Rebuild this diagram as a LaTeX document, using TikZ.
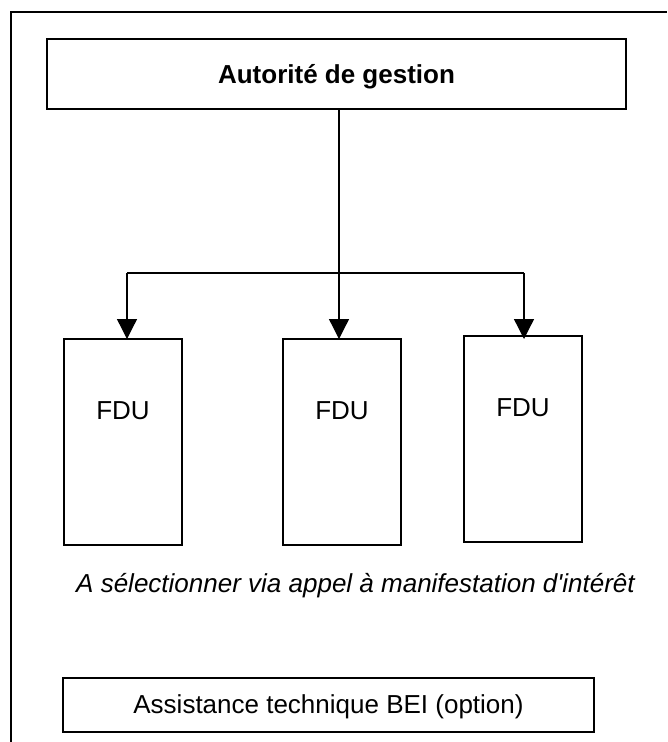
\documentclass[tikz,border=0pt]{standalone}
\usepackage{fontspec}
\setmainfont{Liberation Sans}
\usetikzlibrary{arrows.meta}
\begin{document}
\begin{tikzpicture}[x=1pt,y=-1pt,
  box/.style={draw=black, line width=1.3pt, rectangle, inner sep=0pt},
  fdubox/.style={box, minimum width=118pt, minimum height=206pt},
  lbl/.style={anchor=base, inner sep=0pt, font=\fontsize{26}{30}\selectfont},
  conn/.style={draw=black, line width=1.3pt},
  arr/.style={conn, -{Triangle[width=20pt,length=20pt]}}]
\useasboundingbox (0,0) rectangle (667,742);
% outer frame (left and top only)
\draw[line width=1.3pt] (11,742) -- (11,12) -- (667,12);
% top box
\node[box, minimum width=579pt, minimum height=70pt] (ag) at (336.5,74) {};
\node[lbl, font=\fontsize{26}{30}\selectfont\bfseries] (agt) at (336.5,83) {Autorité de gestion};
% FDU boxes
\node[fdubox] (f1) at (123,442) {};
\node[fdubox] (f2) at (342,442) {};
\node[fdubox] (f3) at (523,439) {};
\node[lbl] (t1) at (123,419) {FDU};
\node[lbl] (t2) at (342,419) {FDU};
\node[lbl] (t3) at (523,416) {FDU};
% connectors
\coordinate (jm) at (339,273);
\coordinate (jl) at (127,273);
\coordinate (jr) at (524,273);
\coordinate (tipl) at (127,339);
\coordinate (tipm) at (339,339);
\coordinate (tipr) at (524,339);
\draw[arr] (ag.south -| jm) -- (tipm);
\draw[conn] (jl) -- (jr);
\draw[arr] (jl) -- (tipl);
\draw[arr] (jr) -- (tipr);
% italic caption
\node[lbl, font=\fontsize{26}{30}\selectfont\itshape\addfontfeatures{Ligatures=TeXOff}] (cap) at (355.5,592) {A sélectionner via appel à manifestation d'intérêt};
% bottom box
\node[box, minimum width=531pt, minimum height=54pt] (bei) at (328.5,705) {};
\node[lbl] (beit) at (328.5,713) {Assistance technique BEI (option)};
\end{tikzpicture}
\end{document}
